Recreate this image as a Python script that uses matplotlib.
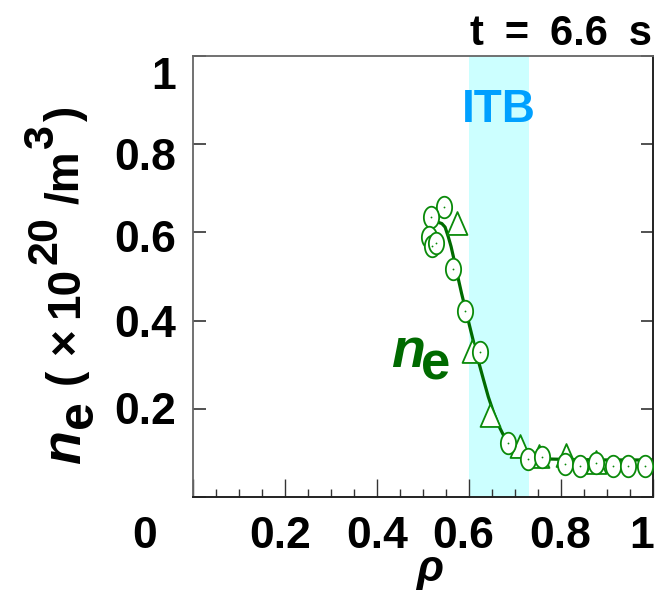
import numpy as np
import matplotlib
matplotlib.use("Agg")
from matplotlib import pyplot as plt
from matplotlib.path import Path
from matplotlib.transforms import ScaledTranslation

# density profile, t = 6.6 s
rho_circ = [0.546, 0.517, 0.514, 0.520, 0.528, 0.565, 0.591, 0.624, 0.684,
            0.729, 0.759, 0.809, 0.841, 0.876, 0.912, 0.946, 0.983]
ne_circ = [0.658, 0.636, 0.590, 0.570, 0.575, 0.518, 0.421, 0.329, 0.123,
           0.086, 0.0915, 0.074, 0.070, 0.076, 0.070, 0.070, 0.070]
rho_tri = [0.573, 0.606, 0.646, 0.711, 0.752, 0.811, 0.877]
ne_tri = [0.621, 0.332, 0.185, 0.115, 0.094, 0.096, 0.080]
rho_fit = [0.533, 0.541, 0.548, 0.555, 0.561, 0.568, 0.576, 0.584, 0.593, 0.602,
           0.611, 0.620, 0.631, 0.642, 0.653, 0.664, 0.676, 0.689, 0.703, 0.718,
           0.735, 0.754, 0.780, 0.820, 0.900, 1.000]
ne_fit = [0.623, 0.620, 0.612, 0.590, 0.568, 0.536, 0.498, 0.461, 0.423, 0.385,
          0.347, 0.310, 0.268, 0.227, 0.193, 0.163, 0.138, 0.118, 0.104, 0.095,
          0.090, 0.0875, 0.086, 0.085, 0.084, 0.084]
itb_range = [0.60, 0.73]
xtick_vals = [0.2, 0.4, 0.6, 0.8, 1.0]
xtick_text = ['0.2', '0.4', '0.6', '0.8', '1']
ytick_vals = [0.2, 0.4, 0.6, 0.8, 1.0]
ytick_text = ['0.2', '0.4', '0.6', '0.8', '1']

plt.rcParams['font.family'] = ['Liberation Sans', 'DejaVu Sans']
plt.rcParams['font.weight'] = 'bold'

W, H = 671, 593
fig = plt.figure(figsize=(W / 100, H / 100), dpi=100)
ax = fig.add_axes([193 / W, (H - 497) / H, 460 / W, 441 / H])

def ftext(x, y, s, **kw):
    # place text by pixel position measured from the top-left corner
    return fig.text(x / W, 1 - y / H, s, **kw)

green = '#0a8a0a'
dkgreen = '#006a00'

ax.axvspan(itb_range[0], itb_range[1], color='#ccffff', lw=0, zorder=0)

t = np.linspace(0, 2 * np.pi, 61)
ellipse = Path(np.column_stack([0.71 * np.cos(t), np.sin(t)]), closed=True)
tri = Path([(0, 1), (-0.87, -1), (0.87, -1), (0, 1)], closed=True)

ax.plot(rho_fit, ne_fit, color=dkgreen, lw=2.3, zorder=2)
ax.plot(rho_tri, ne_tri, ls='none', marker=tri, ms=16.5, mfc='white',
        mec=green, mew=1.3, zorder=3)
ax.plot(rho_circ, ne_circ, ls='none', marker=ellipse, ms=15.5, mfc='white',
        mec=green, mew=1.3, zorder=4)
ax.plot(rho_circ, ne_circ, ls='none', marker='o', ms=1.3, color=green,
        mew=0, zorder=5)

ax.set_xlim(0, 1)
ax.set_ylim(0, 1)
ax.set_xticks(np.arange(0, 1.01, 0.2))
ax.set_xticks(np.arange(0, 1.01, 0.05), minor=True)
ax.set_yticks(np.arange(0, 1.01, 0.2))
ax.tick_params(axis='x', which='major', direction='in', length=13, width=1,
               color='#333333', labelbottom=False)
ax.tick_params(axis='x', which='minor', direction='in', length=6, width=1,
               color='#333333')
ax.tick_params(axis='y', direction='in', length=9, width=1.2, color='#333333',
               left=True, right=True, labelleft=False)
for side in ['right', 'bottom']:
    ax.spines[side].set_color('#222222')
    ax.spines[side].set_linewidth(1.4)
for side in ['left', 'top']:
    ax.spines[side].set_color('#666666')
    ax.spines[side].set_linewidth(1.3)

# tick labels
xoff = [-5, 0, -6, -1, -11]
for v, s, dx in zip(xtick_vals, xtick_text, xoff):
    tr = ax.get_xaxis_transform() + ScaledTranslation(dx / 100, -51 / 100, fig.dpi_scale_trans)
    ax.text(v, 0, s, transform=tr, ha='center', va='baseline', fontsize=32)
yoff = [15, 16, 20, 26, 33]
for v, s, dy in zip(ytick_vals, ytick_text, yoff):
    tr = ax.get_yaxis_transform() + ScaledTranslation(-17 / 100, -dy / 100, fig.dpi_scale_trans)
    ax.text(0, v, s, transform=tr, ha='right', va='baseline', fontsize=32)
ftext(145, 548, '0', ha='center', va='baseline', fontsize=32)

ax.text(np.mean(itb_range), 0.878, 'ITB', ha='center', va='center',
        fontsize=33, color='#00a0ff')
ftext(652, 45, 't\u2002=\u20026.6\u2002s', ha='right', va='baseline', fontsize=30)
ftext(430, 581, 'ρ', ha='center', va='baseline', fontsize=32, fontstyle='italic')

# curve label
ftext(391, 367, 'n', ha='left', va='baseline', fontsize=40, fontstyle='italic', color=dkgreen)
ftext(421, 380, 'e', ha='left', va='baseline', fontsize=38, color=dkgreen)

# rotated y label, built piece by piece from the bottom up
r = fig.canvas.get_renderer()
pieces = [('n', 40, 'italic', 80, 0), ('e', 36, 'normal', 92, 2),
          ('(', 33, 'normal', 78, 16), ('×', 33, 'normal', 78, 14),
          ('10', 33, 'normal', 78, 10), ('20', 31, 'normal', 56, 3),
          ('/m', 33, 'normal', 78, 12), ('3', 31, 'normal', 53, 2),
          (')', 33, 'normal', 78, 4)]
ypos = 464
for s, size, style, xb, gap in pieces:
    ypos -= gap
    txt = ftext(xb, ypos, s, rotation=90, rotation_mode='anchor', ha='left',
                va='baseline', fontsize=size, fontstyle=style)
    ypos -= txt.get_window_extent(r).height

fig.savefig('out.png', dpi=100)
